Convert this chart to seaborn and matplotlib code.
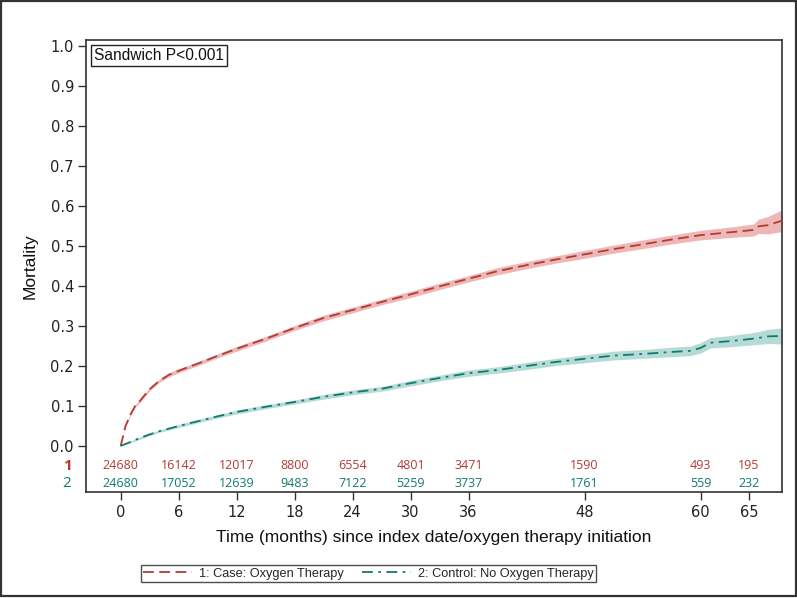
import matplotlib
matplotlib.use("Agg")
import matplotlib.pyplot as plt
import matplotlib.patches as mpatches
import matplotlib.transforms as mtransforms
from matplotlib.lines import Line2D
import numpy as np
import pandas as pd
import seaborn as sns

# ---------------- data ----------------
case_t = [0, 0.5, 1, 1.5, 2, 3, 4, 5, 6, 8, 10, 12, 15, 18, 21, 24, 27, 30, 33, 36,
          39, 42, 45, 48, 51, 54, 57, 60, 63, 65.5, 66, 67, 68.4]
case_y = [0, 0.05, 0.078, 0.10, 0.113, 0.142, 0.163, 0.178, 0.188, 0.206, 0.225, 0.243,
          0.268, 0.295, 0.32, 0.34, 0.36, 0.379, 0.399, 0.418, 0.437, 0.452, 0.466,
          0.479, 0.492, 0.504, 0.516, 0.527, 0.534, 0.54, 0.549, 0.552, 0.563]
case_ci = [0, 0.002, 0.003, 0.003, 0.004, 0.004, 0.004, 0.005, 0.005, 0.005, 0.005, 0.006,
           0.006, 0.006, 0.007, 0.007, 0.007, 0.008, 0.008, 0.008, 0.009, 0.009, 0.009,
           0.010, 0.010, 0.011, 0.011, 0.012, 0.013, 0.015, 0.018, 0.022, 0.027]

ctrl_t = [0, 1, 2, 3, 4, 6, 8, 10, 12, 15, 18, 21, 24, 27, 30, 33, 36, 39, 42, 45,
          48, 51, 54, 57, 59, 60, 61, 63, 65, 66, 67, 68.4]
ctrl_y = [0, 0.01, 0.02, 0.029, 0.037, 0.05, 0.062, 0.074, 0.085, 0.098, 0.11, 0.123,
          0.134, 0.143, 0.157, 0.17, 0.182, 0.19, 0.2, 0.21, 0.218, 0.226, 0.23, 0.235,
          0.238, 0.245, 0.258, 0.262, 0.267, 0.27, 0.274, 0.275]
ctrl_ci = [0, 0.002, 0.003, 0.003, 0.003, 0.004, 0.004, 0.004, 0.005, 0.005, 0.005, 0.006,
           0.006, 0.006, 0.007, 0.007, 0.008, 0.008, 0.009, 0.009, 0.010, 0.011, 0.011,
           0.012, 0.012, 0.013, 0.013, 0.014, 0.015, 0.016, 0.018, 0.02]

risk_times = [0, 6, 12, 18, 24, 30, 36, 48, 60, 65]
risk_case = [24680, 16142, 12017, 8800, 6554, 4801, 3471, 1590, 493, 195]
risk_ctrl = [24680, 17052, 12639, 9483, 7122, 5259, 3737, 1761, 559, 232]

x_ticks = [0, 6, 12, 18, 24, 30, 36, 48, 60, 65]
y_ticks = [0.0, 0.1, 0.2, 0.3, 0.4, 0.5, 0.6, 0.7, 0.8, 0.9, 1.0]

labels = ["1: Case: Oxygen Therapy", "2: Control: No Oxygen Therapy"]

# ---------------- style ----------------
sns.set_style("ticks")
plt.rcParams['font.family'] = ['Liberation Sans', 'DejaVu Sans']

RED = "#B23B34"
RED_BAND = "#EDB0AF"
TEAL = "#117A6F"
TEAL_BAND = "#AED8D2"

fig = plt.figure(figsize=(7.97, 5.98), dpi=100)
ax = fig.add_axes([85.7 / 797, 1 - 492 / 598, (781.7 - 85.7) / 797, (492 - 40.3) / 598])

case_df = pd.DataFrame({"t": case_t, "y": case_y, "ci": case_ci})
ctrl_df = pd.DataFrame({"t": ctrl_t, "y": ctrl_y, "ci": ctrl_ci})

ax.fill_between(case_df.t, case_df.y - case_df.ci, case_df.y + case_df.ci,
                color=RED_BAND, lw=0, alpha=0.9, zorder=1)
ax.fill_between(ctrl_df.t, ctrl_df.y - ctrl_df.ci, ctrl_df.y + ctrl_df.ci,
                color=TEAL_BAND, lw=0, alpha=0.9, zorder=1)

sns.lineplot(data=case_df, x="t", y="y", ax=ax, color=RED, lw=1.3,
             linestyle=(0, (6, 3)), zorder=3)
sns.lineplot(data=ctrl_df, x="t", y="y", ax=ax, color=TEAL, lw=1.3,
             linestyle=(0, (6, 3, 1.5, 3)), zorder=3)

ax.set_xlim(-3.62, 68.4)
ax.set_ylim(-0.115, 1.014)
ax.set_xticks(x_ticks)
ax.set_yticks(y_ticks)
ax.set_yticklabels([f"{v:.1f}" for v in y_ticks])
ax.tick_params(axis="both", direction="out", length=5.5, width=1, color="#333333",
               labelsize=10.5, colors="#222222")
for lab in ax.get_xticklabels() + ax.get_yticklabels():
    lab.set_fontfamily(['DejaVu Sans'])
ax.tick_params(axis="x", pad=4)
ax.tick_params(axis="y", pad=3)

for sp in ax.spines.values():
    sp.set_visible(True)
    sp.set_color("#333333")
    sp.set_linewidth(1.2)

ax.set_xlabel("Time (months) since index date/oxygen therapy initiation",
              fontsize=12.5, labelpad=7, color="#111111")
ax.set_ylabel("Mortality", fontsize=12.5, labelpad=9, color="#111111")

# at-risk table
row_y = [-0.05, -0.095]
for t, n in zip(risk_times, risk_case):
    ax.text(t, row_y[0], str(n), color=RED, ha="center", va="center", fontsize=9,
            family=['Open Sans', 'DejaVu Sans'])
for t, n in zip(risk_times, risk_ctrl):
    ax.text(t, row_y[1], str(n), color=TEAL, ha="center", va="center", fontsize=9,
            family=['Open Sans', 'DejaVu Sans'])
trans = mtransforms.blended_transform_factory(fig.transFigure, ax.transData)
ax.text(67 / 797, row_y[0], "1", color=RED, ha="center", va="center", fontsize=11,
        transform=trans, family=['Open Sans', 'DejaVu Sans'], fontweight="bold")
ax.text(67 / 797, row_y[1], "2", color=TEAL, ha="center", va="center", fontsize=11,
        transform=trans, family=['Open Sans', 'DejaVu Sans'])

# Sandwich box
ax.text(0.012, 0.983, "Sandwich P<0.001", transform=ax.transAxes, ha="left", va="top",
        fontsize=11.2, color="#111111",
        bbox=dict(boxstyle="square,pad=0.2", fc="white", ec="#222222", lw=1.0))

# legend
handles = [Line2D([], [], color=RED, lw=1.3, linestyle=(0, (6, 3))),
           Line2D([], [], color=TEAL, lw=1.3, linestyle=(0, (6, 3, 1.5, 3)))]
leg = fig.legend(handles, labels, loc="center", bbox_to_anchor=(368.5 / 797, 1 - 573.5 / 598),
                 ncol=2, frameon=True, fontsize=9.2, handlelength=3.8, handletextpad=0.6,
                 columnspacing=1.4, borderpad=0.2, fancybox=False)
leg.get_frame().set_edgecolor("#222222")
leg.get_frame().set_linewidth(1.0)

# outer figure border
fig.patches.append(mpatches.Rectangle((0.0015, 0.003), 0.997, 0.995, transform=fig.transFigure,
                                      fill=False, ec="#333333", lw=1.6))

fig.savefig("out.png", dpi=100)
